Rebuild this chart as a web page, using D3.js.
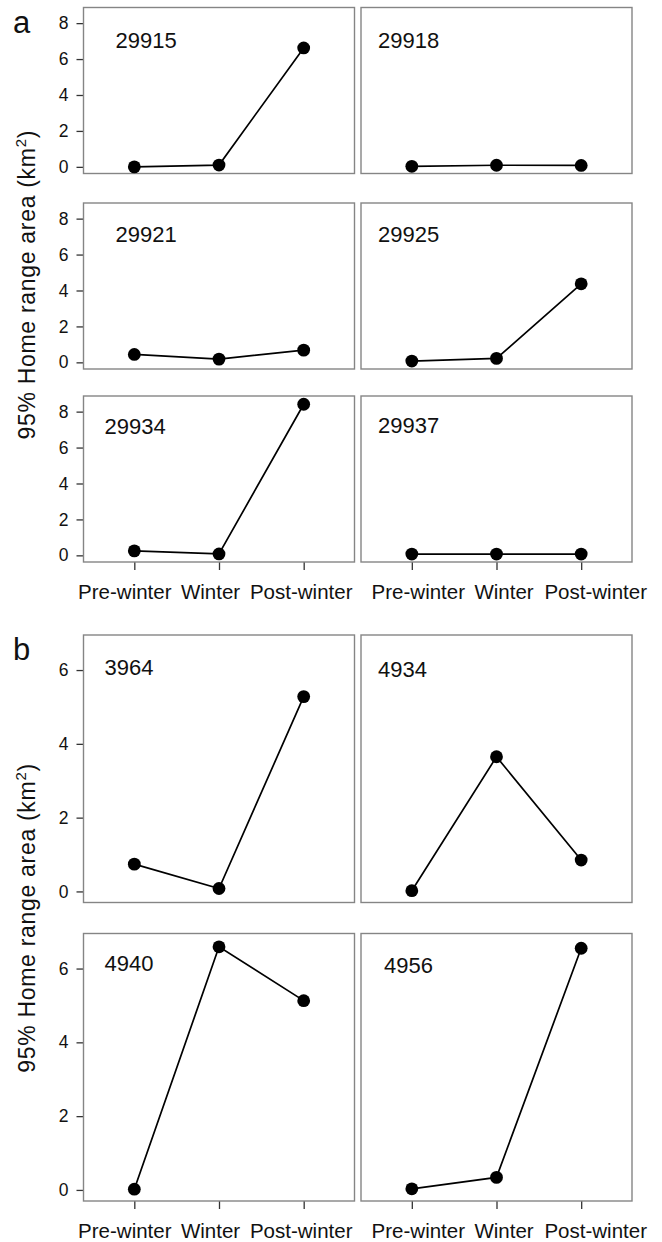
<!DOCTYPE html>
<html>
<head>
<meta charset="utf-8">
<script src="https://cdn.jsdelivr.net/npm/d3@7"></script>
<style>
  html, body { margin: 0; padding: 0; background: #fff; }
  svg { display: block; }
  text { font-family: "Liberation Sans", Arial, Helvetica, sans-serif; fill: #111; }
</style>
</head>
<body>
<svg id="chart" width="662" height="1242"></svg>
<script>
// ---------- data ----------
const periods = ["Pre-winter", "Winter", "Post-winter"];

const idsA = ["29915", "29918", "29921", "29925", "29934", "29937"];
const valuesA = [
  [0.00, 0.10, 6.62],
  [0.03, 0.09, 0.08],
  [0.44, 0.18, 0.68],
  [0.07, 0.22, 4.37],
  [0.25, 0.08, 8.41],
  [0.07, 0.07, 0.07]
];
const ticksA = [0, 2, 4, 6, 8];

const idsB = ["3964", "4934", "4940", "4956"];
const valuesB = [
  [0.74, 0.08, 5.28],
  [0.02, 3.65, 0.85],
  [0.02, 6.59, 5.13],
  [0.03, 0.34, 6.55]
];
const ticksB = [0, 2, 4, 6];

const yTitle = "95% Home range area (km";

// ---------- layout ----------
const colX = [83.5, 361];
const panelW = 271;
const xLabelShift = [[-10, -9, -3], [6, 7, 14]];   // per column label nudges
const groupA = { rows: [7.5, 203, 396], h: 166, domain: [-0.37, 8.87], ticks: ticksA,
                 labelDx: [32, 17, 32, 17, 21, 17], labelDy: [40, 40, 39, 39, 38, 37], letter: "a", letterY: 33 };
const groupB = { rows: [635, 933.5], h: 267.5, domain: [-0.3, 6.95], ticks: ticksB,
                 labelDx: [21, 17, 21, 23], labelDy: [40, 42, 37, 39], letter: "b", letterY: 660 };

const svg = d3.select("#chart");

const x = d3.scalePoint().domain(periods).range([0, panelW]).padding(0.6);

function drawGroup(g, ids, values) {
  const y = d3.scaleLinear().domain(g.domain).range([g.h, 0]);
  const nRows = g.rows.length;
  ids.forEach((id, i) => {
    const row = Math.floor(i / 2), col = i % 2;
    const p = svg.append("g").attr("transform", `translate(${colX[col]},${g.rows[row]})`);

    // y axis on left column
    if (col === 0) {
      const ya = p.append("g")
        .call(d3.axisLeft(y).tickValues(g.ticks).tickSize(7).tickPadding(8).tickFormat(d3.format("d")));
      ya.select(".domain").remove();
      ya.selectAll(".tick line").attr("stroke", "#333").attr("stroke-width", 1.3);
      ya.selectAll(".tick text").attr("font-size", 17.5).attr("fill", "#111")
        .style("font-family", '"Liberation Sans", Arial, sans-serif');
    }
    // x axis on bottom row
    if (row === nRows - 1) {
      const xa = p.append("g").attr("transform", `translate(0,${g.h})`)
        .call(d3.axisBottom(x).tickSize(8).tickPadding(14));
      xa.select(".domain").remove();
      xa.selectAll(".tick line").attr("stroke", "#333").attr("stroke-width", 1.3);
      xa.selectAll(".tick text").attr("font-size", 20.5).attr("fill", "#111")
        .attr("dx", (d, j) => xLabelShift[col][j])
        .style("font-family", '"Liberation Sans", Arial, sans-serif');
    }

    // panel border
    p.append("rect").attr("x", 0).attr("y", 0).attr("width", panelW).attr("height", g.h)
      .attr("fill", "none").attr("stroke", "#858585").attr("stroke-width", 1.4);

    const pts = periods.map((k, j) => ({ k, v: values[i][j] }));
    p.append("path").datum(pts)
      .attr("fill", "none").attr("stroke", "#000").attr("stroke-width", 1.7)
      .attr("d", d3.line().x(d => x(d.k)).y(d => y(d.v)));
    p.selectAll("circle.pt").data(pts).enter().append("circle")
      .attr("class", "pt")
      .attr("cx", d => x(d.k)).attr("cy", d => y(d.v)).attr("r", 6.4).attr("fill", "#000");

    p.append("text").attr("x", g.labelDx[i]).attr("y", g.labelDy[i])
      .attr("font-size", 22).text(id);
  });

  // y title
  const top = g.rows[0], bottom = g.rows[nRows - 1] + g.h;
  const cy = (top + bottom) / 2;
  const t = svg.append("text")
    .attr("transform", `translate(35,${cy}) rotate(-90)`)
    .attr("text-anchor", "middle").attr("font-size", 23).attr("letter-spacing", 0.7);
  t.append("tspan").text(yTitle);
  t.append("tspan").attr("font-size", 15).attr("dy", -9).text("2");
  t.append("tspan").attr("dy", 9).text(")");

  svg.append("text").attr("x", 13).attr("y", g.letterY).attr("font-size", 31).text(g.letter);
}

drawGroup(groupA, idsA, valuesA);
drawGroup(groupB, idsB, valuesB);
</script>
</body>
</html>
